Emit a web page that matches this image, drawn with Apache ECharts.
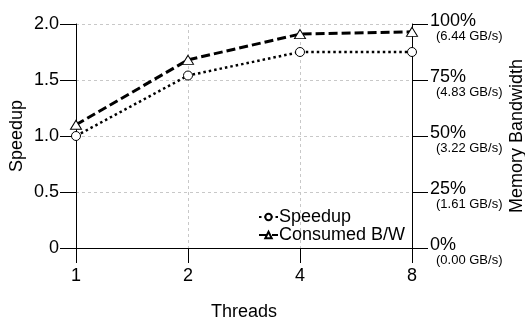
<!DOCTYPE html>
<html><head><meta charset="utf-8">
<script src="https://cdn.jsdelivr.net/npm/echarts@6/dist/echarts.min.js"></script>
<style>html,body{margin:0;padding:0;background:#fff}#c{width:525px;height:319px}</style>
</head><body><div id="c"></div>
<script>
var threads = ['1', '2', '4', '8'];
var speedup = [1.0, 1.54, 1.75, 1.75];
var bandwidthPct = [55, 84, 95.5, 96.5];
var speedupTicks = ['0', '0.5', '1.0', '1.5', '2.0'];
var bwPctTicks = ['0%', '25%', '50%', '75%', '100%'];
var bwGbTicks = ['(0.00 GB/s)', '(1.61 GB/s)', '(3.22 GB/s)', '(4.83 GB/s)', '(6.44 GB/s)'];

var FONT = '"Liberation Sans", Arial, sans-serif';
var chart = echarts.init(document.getElementById('c'), null, {renderer: 'canvas'});
chart.setOption({
  animation: false,
  textStyle: {fontFamily: FONT, color: '#000'},
  grid: {left: 76, right: 113, top: 24, bottom: 71, outerBoundsMode: 'none', containLabel: false},
  legend: {
    orient: 'vertical', left: 253, top: 203,
    itemWidth: 19, itemHeight: 8, itemGap: 0,
    textStyle: {fontFamily: FONT, fontSize: 18, lineHeight: 17, color: '#000', padding: [0,0,0,-4]},
    data: ['Speedup', 'Consumed B/W']
  },
  xAxis: {
    type: 'category', data: threads, boundaryGap: false,
    name: 'Threads', nameLocation: 'middle', nameGap: 55, nameMoveOverlap: false,
    nameTextStyle: {fontFamily: FONT, fontSize: 18, color: '#000'},
    axisLine: {lineStyle: {color: '#000', width: 1}},
    axisTick: {show: true, length: 15, lineStyle: {color: '#000'}},
    axisLabel: {fontFamily: FONT, fontSize: 18, color: '#000', margin: 19},
    splitLine: {show: true, lineStyle: {color: '#c8c8c8', type: [3, 3]}}
  },
  yAxis: [{
    type: 'value', min: 0, max: 2, interval: 0.5, position: 'left',
    name: 'Speedup', nameLocation: 'middle', nameGap: 50, nameRotate: 90, nameMoveOverlap: false,
    nameTextStyle: {fontFamily: FONT, fontSize: 18, color: '#000'},
    axisLine: {show: true, lineStyle: {color: '#000', width: 1}},
    axisTick: {show: true, length: 16, lineStyle: {color: '#000'}},
    axisLabel: {fontFamily: FONT, fontSize: 18, color: '#000', margin: 17,
      formatter: function (v) { return speedupTicks[Math.round(v / 0.5)]; }},
    splitLine: {show: true, lineStyle: {color: '#c8c8c8', type: [3, 3]}}
  }, {
    type: 'value', min: 0, max: 100, interval: 25, position: 'right',
    name: 'Memory Bandwidth', nameLocation: 'middle', nameGap: 96, nameRotate: 90, nameMoveOverlap: false,
    nameTextStyle: {fontFamily: FONT, fontSize: 18, color: '#000'},
    axisLine: {show: true, lineStyle: {color: '#000', width: 1}},
    axisTick: {show: true, length: 16, lineStyle: {color: '#000'}},
    axisLabel: {margin: 18, padding: [9, 0, 0, 0],
      formatter: function (v) { var i = Math.round(v / 25); return '{a|' + bwPctTicks[i] + '}\n{b|' + bwGbTicks[i] + '}'; },
      rich: {
        a: {fontFamily: FONT, fontSize: 18, color: '#000', lineHeight: 15},
        b: {fontFamily: FONT, fontSize: 13, color: '#000', lineHeight: 14, padding: [0, 0, 0, 6]}
      }},
    splitLine: {show: false}
  }],
  series: [{
    name: 'Speedup', type: 'line', yAxisIndex: 0, data: speedup,
    symbol: 'circle', symbolSize: 9, showAllSymbol: true,
    lineStyle: {color: '#000', width: 2.5, type: [2.5, 3]},
    itemStyle: {color: '#fff', borderColor: '#000', borderWidth: 1},
    z: 3
  }, {
    name: 'Consumed B/W', type: 'line', yAxisIndex: 1, data: bandwidthPct,
    symbol: 'triangle', symbolSize: [11, 9], showAllSymbol: true,
    lineStyle: {color: '#000', width: 3, type: [9, 4]},
    itemStyle: {color: '#fff', borderColor: '#000', borderWidth: 1},
    z: 3
  }]
});
</script></body></html>
